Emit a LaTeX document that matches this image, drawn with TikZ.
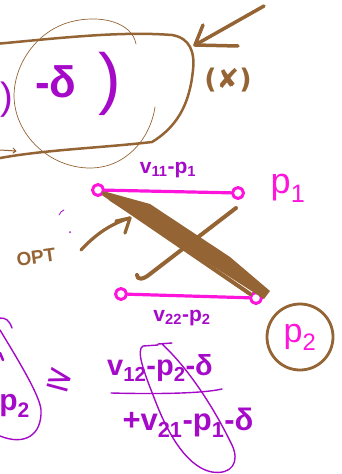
\documentclass[tikz,border=0pt]{standalone}
\usepackage{fontspec}
\setmainfont{Liberation Sans}
\newfontfamily\symfont{DejaVu Sans}
\definecolor{brownc}{RGB}{148,100,52}
\definecolor{purplec}{RGB}{165,10,200}
\definecolor{pinkc}{RGB}{255,20,220}
\begin{document}
\begin{tikzpicture}[x=1pt,y=-1pt,line cap=round,line join=round,
  brownline/.style={draw=brownc,line width=2.5pt},
  thinbrown/.style={draw=brownc,line width=0.7pt},
  pinkline/.style={draw=pinkc,line width=3.2pt},
  pinkdot/.style={circle,draw=pinkc,line width=3pt,minimum size=11pt,inner sep=0pt},
  purpletext/.style={text=purplec,inner sep=0pt},
  purpleline/.style={draw=purplec,line width=1.4pt}]
\useasboundingbox (0,0) rectangle (341,474);
% big brown rounded box
\draw[brownline] (-5,44) .. controls (60,38) and (120,31) .. (172,35)
  .. controls (190,38) and (195,52) .. (193,70)
  .. controls (190,100) and (180,125) .. (152,142)
  .. controls (100,148) and (40,150) .. (-5,159);
% thin brown circle
\draw[thinbrown] (136,44) .. controls (132,22) and (100,14) .. (70,22)
  .. controls (40,30) and (15,60) .. (14,95)
  .. controls (14,135) and (50,168) .. (90,168)
  .. controls (125,168) and (150,140) .. (155,107);
% purple -delta )
\node[purpletext,font=\fontsize{38}{38}\selectfont] (lparen) at (7,100) {)};
\node[purpletext,font=\bfseries\fontsize{44}{44}\selectfont] (mdelta) at (56,82) {-δ};
\node[purpletext,font=\fontsize{68}{68}\selectfont] (rparen) at (110,84) {)};
% top right arrow
\coordinate (atail) at (264,6);
\coordinate (atip) at (195,45);
\draw[draw=brownc,line width=3.5pt] (atail) -- (atip);
\draw[draw=brownc,line width=3.5pt] (203,25) -- (atip) -- (238,46);
\node[text=brownc,font=\symfont\bfseries\fontsize{27}{27}\selectfont,inner sep=0pt] (cross) at (228,80) {(✘)};
% small left arrow
\draw[draw=brownc,line width=1pt] (0,150) -- (16,151) (13,148) -- (16,151) -- (13,153);
% pink segments
\node[pinkdot] (a1) at (98,190) {};
\node[pinkdot] (b1) at (238,193) {};
\node[pinkdot] (a2) at (121,294) {};
\node[pinkdot] (b2) at (256,298) {};
\draw[pinkline] (a1) -- (b1);
\draw[pinkline] (a2) -- (b2);
% labels
\node[purpletext,font=\bfseries\fontsize{21}{21}\selectfont] (l1) at (168,170) {v\textsubscript{11}-p\textsubscript{1}};
\node[text=pinkc,font=\fontsize{36}{36}\selectfont,inner sep=0pt] (p1) at (288,188) {p\textsubscript{1}};
\node[purpletext,font=\bfseries\fontsize{21}{21}\selectfont] (l2) at (182,318) {v\textsubscript{22}-p\textsubscript{2}};
\node[circle,draw=brownc,line width=2.8pt,minimum size=66pt,inner sep=0pt] (c2) at (300,337) {};
\node[text=pinkc,font=\fontsize{34}{34}\selectfont,inner sep=0pt] (p2) at (c2) {p\textsubscript{2}};
% brown cross
\fill[brownc] (103,191) -- (150,204) -- (230,257) -- (270,291) -- (264,299) -- (200,258) -- (110,201) -- cycle;
\draw[draw=brownc,line width=4pt] (a1) -- (b2);
\draw[draw=brownc,line width=4pt] (236,208) -- (150,274) .. controls (143,280) and (137,280) .. (137,275);
% OPT arrow
\node[text=brownc,font=\bfseries\fontsize{19}{19}\selectfont,inner sep=0pt,rotate=8] (opt) at (36,257) {OPT};
\coordinate (otip) at (130,218);
\draw[draw=brownc,line width=3.2pt] (81,250) .. controls (95,235) and (110,224) .. (otip);
\draw[draw=brownc,line width=3.2pt] (116,221) -- (otip) -- (125,233);
% small purple marks
\draw[draw=purplec,line width=0.8pt] (59,215) .. controls (60,212) and (62,211) .. (64,210);
\fill[purplec] (70,232) circle (1pt);
% left bottom loop
\draw[purpleline] (0,318) .. controls (6,318) and (9,320) .. (12,328);
\draw[purpleline] (0,330) .. controls (15,355) and (40,395) .. (41,410)
  .. controls (42,435) and (25,446) .. (0,436);
\draw[draw=purplec,line width=2.6pt] (0,353) -- (3,360);
\node[purpletext,font=\bfseries\fontsize{30}{30}\selectfont,anchor=east] (lp2) at (30,406) {p\textsubscript{2}};
% geq
\node[purpletext,font=\symfont\fontsize{34}{34}\selectfont,rotate=-15] (geq) at (60,380) {≥};
% fraction
\node[purpletext,font=\bfseries\fontsize{29}{29}\selectfont] (num) at (160,368) {v\textsubscript{12}-p\textsubscript{2}-δ};
\coordinate (fl) at (111,393);
\coordinate (fr) at (222,389);
\draw[purpleline] (fl) .. controls (150,394) and (200,394) .. (fr);
\node[purpletext,font=\bfseries\fontsize{31}{31}\selectfont] (den) at (188,423) {+v\textsubscript{21}-p\textsubscript{1}-δ};
% fraction loop
\draw[purpleline] (158,344) -- (172,343)
  (162,344) .. controls (190,370) and (215,410) .. (232,445)
  .. controls (240,462) and (232,475) .. (212,472)
  .. controls (190,468) and (170,440) .. (155,400)
  .. controls (143,370) and (136,350) .. (143,346) -- (158,345);
\end{tikzpicture}
\end{document}
